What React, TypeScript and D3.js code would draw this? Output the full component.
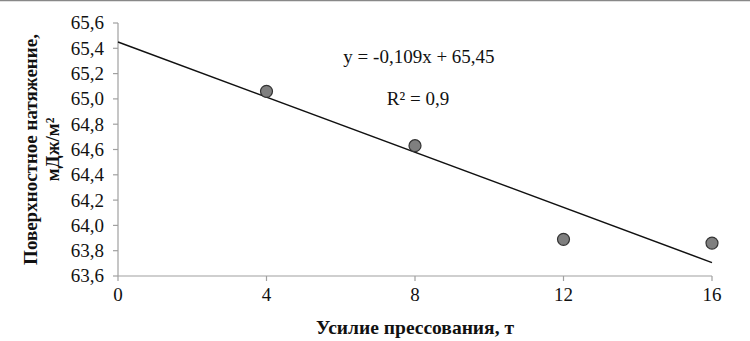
import React from 'react'
import * as d3 from 'd3'

// Усилие прессования, т
const force = [4, 8, 12, 16]
// Поверхностное натяжение, мДж/м²
const tension = [65.06, 64.63, 63.89, 63.86]

const xTicks = [0, 4, 8, 12, 16]
const yTicks = [63.6, 63.8, 64.0, 64.2, 64.4, 64.6, 64.8, 65.0, 65.2, 65.4, 65.6]

// linear trend shown on the chart
const slope = -0.109
const intercept = 65.45

const fmt = (v: number) => v.toFixed(1).replace('.', ',')

const serif = 'Liberation Serif'

export default function App () {
  const width = 750
  const height = 341
  const margin = { top: 23, right: 38, bottom: 65, left: 118 }

  const x = d3.scaleLinear()
    .domain([0, 16])
    .range([margin.left, width - margin.right])
  const y = d3.scaleLinear()
    .domain([63.6, 65.6])
    .range([height - margin.bottom, margin.top])

  const axisColor = '#a0a0a0'

  const trend = d3.line<number>()
    .x(d => x(d))
    .y(d => y(slope * d + intercept))

  const txt = { fontFamily: serif, fill: '#111' }

  return (
    <svg width={width} height={height} style={{ position: 'absolute', left: 0, top: 0, background: '#fff' }}>
      <line x1={0} x2={width} y1={0.5} y2={0.5} stroke='#888' strokeWidth={1.5} />

      {/* y axis */}
      <line x1={x(0)} x2={x(0)} y1={y(65.6)} y2={y(63.6)} stroke={axisColor} strokeWidth={1.2} />
      {yTicks.map(t => (
        <g key={t}>
          <line x1={x(0) - 5} x2={x(0)} y1={y(t)} y2={y(t)} stroke={axisColor} strokeWidth={1.2} />
          <text x={x(0) - 14} y={y(t)} dy='0.34em' textAnchor='end' fontSize={19} style={txt}>{fmt(t)}</text>
        </g>
      ))}

      {/* x axis */}
      <line x1={x(0)} x2={x(16)} y1={y(63.6)} y2={y(63.6)} stroke={axisColor} strokeWidth={1.2} />
      {xTicks.map(t => (
        <g key={t}>
          <line x1={x(t)} x2={x(t)} y1={y(63.6)} y2={y(63.6) + 5} stroke={axisColor} strokeWidth={1.2} />
          <text x={x(t)} y={y(63.6) + 25} textAnchor='middle' fontSize={19} style={txt}>{t}</text>
        </g>
      ))}

      {/* trend line */}
      <path d={trend([0, 16]) || ''} fill='none' stroke='#111' strokeWidth={1.5} />

      {/* points */}
      {force.map((f, i) => (
        <circle key={f} cx={x(f)} cy={y(tension[i])} r={6} fill='#7f7f7f' stroke='#333' strokeWidth={1.2} />
      ))}

      <text x={419} y={63} textAnchor='middle' fontSize={19} style={txt}>y = -0,109x + 65,45</text>
      <text x={418} y={105} textAnchor='middle' fontSize={19} style={txt}>R² = 0,9</text>

      {/* axis titles */}
      <text x={415} y={334} textAnchor='middle' fontSize={19.5} fontWeight='bold' style={txt}>Усилие прессования, т</text>
      <g transform={`translate(0, ${(y(65.6) + y(63.6)) / 2}) rotate(-90)`}>
        <text x={0} y={37} textAnchor='middle' fontSize={19} fontWeight='bold' style={txt}>Поверхностное натяжение,</text>
        <text x={0} y={59} textAnchor='middle' fontSize={19} fontWeight='bold' style={txt}>мДж/м²</text>
      </g>
    </svg>
  )
}
